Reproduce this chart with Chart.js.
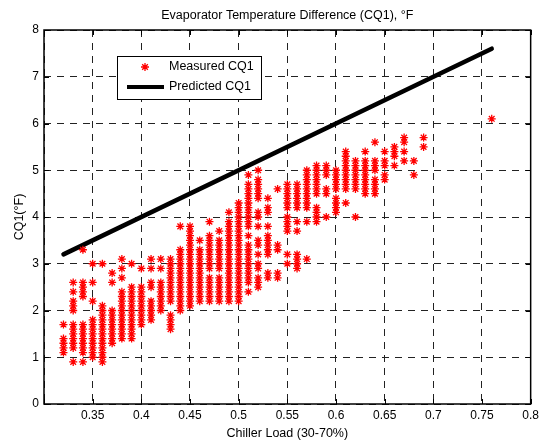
<!DOCTYPE html>
<html><head><meta charset="utf-8">
<script src="https://cdn.jsdelivr.net/npm/chart.js@4/dist/chart.umd.min.js"></script>
<style>html,body{margin:0;padding:0;background:#fff}canvas{display:block}</style>
</head><body>
<canvas id="c" width="543" height="442"></canvas>
<script>
const chartTitle = 'Evaporator Temperature Difference (CQ1), °F';
const xAxisTitle = 'Chiller Load (30-70%)';
const yAxisTitle = 'CQ1(°F)';
const measuredLabel = 'Measured CQ1';
const predictedLabel = 'Predicted CQ1';

const loadLevels = [0.32,0.33,0.34,0.35,0.36,0.37,0.38,0.39,0.40,0.41,0.42,0.43,0.44,0.45,0.46,0.47,0.48,0.49,0.50,0.51,0.52,0.53,0.54,0.55,0.56,0.57,0.58,0.59,0.60,0.61,0.62,0.63,0.64,0.65,0.66,0.67,0.68,0.69,0.76];
const measuredByLoad = [
  [1.1,1.2,1.3,1.4,1.7],
  [0.9,1.2,1.3,1.4,1.5,1.6,1.7,2.0,2.1,2.2,2.4,2.6],
  [0.9,1.1,1.2,1.3,1.4,1.5,1.6,1.7,2.3,2.4,2.5,2.6,3.3],
  [1.0,1.1,1.2,1.3,1.4,1.5,1.6,1.7,1.8,2.2,2.6,3.0],
  [0.9,1.0,1.1,1.2,1.3,1.4,1.5,1.6,1.7,1.8,1.9,2.0,2.1,3.0],
  [1.3,1.4,1.5,1.6,1.7,1.8,1.9,2.0,2.6,2.8],
  [1.4,1.5,1.6,1.7,1.8,1.9,2.0,2.1,2.2,2.3,2.4,2.7,2.9,3.1],
  [1.4,1.5,1.6,1.7,1.8,1.9,2.0,2.1,2.2,2.3,2.4,2.5,3.0],
  [1.7,1.8,1.9,2.0,2.1,2.2,2.3,2.4,2.5,2.9],
  [1.8,1.9,2.0,2.1,2.2,2.5,2.6,2.9,3.1],
  [2.0,2.1,2.2,2.3,2.4,2.5,2.6,2.9,3.1],
  [1.6,1.7,1.8,1.9,2.2,2.3,2.4,2.5,2.6,2.7,2.8,2.9,3.0,3.1],
  [2.0,2.1,2.2,2.3,2.4,2.5,2.6,2.7,2.8,2.9,3.0,3.1,3.2,3.3,3.8],
  [2.1,2.2,2.3,2.4,2.5,2.6,2.7,2.8,2.9,3.0,3.1,3.2,3.3,3.4,3.5,3.6,3.7,3.8],
  [2.2,2.3,2.4,2.5,2.6,2.7,2.8,2.9,3.0,3.1,3.2,3.3,3.5],
  [2.2,2.3,2.4,2.5,2.6,2.7,2.9,3.0,3.1,3.2,3.3,3.4,3.5,3.6,3.9],
  [2.2,2.3,2.4,2.5,2.6,2.7,2.9,3.0,3.1,3.2,3.3,3.4,3.5,3.7],
  [2.2,2.3,2.4,2.5,2.6,2.7,2.8,2.9,3.0,3.1,3.2,3.3,3.4,3.5,3.6,3.7,3.8,3.9,4.1],
  [2.2,2.3,2.4,2.5,2.6,2.7,2.8,2.9,3.0,3.1,3.2,3.3,3.4,3.5,3.6,3.7,3.8,3.9,4.0,4.1,4.2,4.3],
  [2.4,2.6,2.7,2.8,2.9,3.0,3.1,3.2,3.3,3.4,3.6,3.8,3.9,4.0,4.1,4.2,4.3,4.4,4.5,4.6,4.7,4.9],
  [2.5,2.6,2.7,2.9,3.0,3.2,3.4,3.5,3.8,4.0,4.1,4.4,4.5,4.6,4.7,4.8,5.0],
  [2.7,2.8,3.2,3.3,3.4,3.5,3.6,3.8,4.1,4.2,4.4],
  [2.7,2.8,3.3,3.4,4.6],
  [3.0,3.2,3.7,3.8,3.9,4.0,4.2,4.3,4.4,4.5,4.6,4.7],
  [2.9,3.0,3.1,3.2,3.7,3.9,4.2,4.3,4.4,4.5,4.6,4.7],
  [3.1,3.9,4.2,4.3,4.4,4.5,4.6,4.7,4.8,4.9,5.0],
  [3.9,4.0,4.1,4.2,4.5,4.6,4.7,4.8,4.9,5.0,5.1],
  [4.0,4.5,4.6,4.9,5.0,5.1],
  [4.1,4.2,4.3,4.4,4.6,4.7,4.8,4.9,5.0],
  [4.3,4.6,4.7,4.8,4.9,5.0,5.1,5.2,5.3,5.4],
  [4.0,4.6,4.7,4.8,4.9,5.0,5.1,5.2],
  [4.5,4.6,4.7,4.8,4.9,5.0,5.1,5.2,5.4],
  [4.5,4.6,4.7,4.8,5.0,5.1,5.2,5.6],
  [4.8,4.9,5.1,5.2,5.4],
  [5.1,5.3,5.4,5.5],
  [5.2,5.4,5.6,5.7],
  [4.9,5.2],
  [5.5,5.7],
  [6.1]
];
const predictedLoad = [0.32, 0.76];
const predictedCQ1 = [3.2, 7.6];

const xTickValues = [0.3,0.35,0.4,0.45,0.5,0.55,0.6,0.65,0.7,0.75,0.8];
const xTickLabels = ['','0.35','0.4','0.45','0.5','0.55','0.6','0.65','0.7','0.75','0.8'];
const yTickValues = [0,1,2,3,4,5,6,7,8];
const yTickLabels = ['0','1','2','3','4','5','6','7','8'];

const measuredPoints = [];
loadLevels.forEach((x, i) => measuredByLoad[i].forEach(y => measuredPoints.push({x, y})));
const predictedPoints = predictedLoad.map((x, i) => ({x, y: predictedCQ1[i]}));

const FONT = "'Liberation Sans', Arial, Helvetica, sans-serif";
const font12 = {family: FONT, size: 12};
const font13 = {family: FONT, size: 12.5};

const framePlugin = {
  id: 'matlabFrame',
  afterDraw(chart) {
    const {ctx, chartArea: a, scales} = chart;
    ctx.save();
    ctx.strokeStyle = '#000';
    ctx.lineWidth = 1;
    const tl = 5;
    ctx.beginPath();
    xTickValues.forEach(v => {
      const px = Math.round(scales.x.getPixelForValue(v)) + 0.5;
      ctx.moveTo(px, a.bottom); ctx.lineTo(px, a.bottom - tl);
      ctx.moveTo(px, a.top); ctx.lineTo(px, a.top + tl);
    });
    yTickValues.forEach(v => {
      const py = Math.round(scales.y.getPixelForValue(v)) + 0.5;
      ctx.moveTo(a.left, py); ctx.lineTo(a.left + tl, py);
      ctx.moveTo(a.right, py); ctx.lineTo(a.right - tl, py);
    });
    ctx.stroke();
    ctx.lineWidth = 1.5;
    ctx.strokeRect(a.left, a.top, a.right - a.left, a.bottom - a.top);
    // legend
    const bx = 117.5, by = 56.5, bw = 144, bh = 43;
    ctx.fillStyle = '#fff';
    ctx.fillRect(bx, by, bw, bh);
    ctx.lineWidth = 1;
    ctx.strokeStyle = '#000';
    ctx.strokeRect(bx, by, bw, bh);
    const ds0 = chart.data.datasets[0], ds1 = chart.data.datasets[1];
    const mx = 145, my = 67, r = ds0.pointRadius;
    ctx.strokeStyle = ds0.borderColor;
    ctx.lineWidth = ds0.borderWidth;
    ctx.beginPath();
    ctx.moveTo(mx - r, my); ctx.lineTo(mx + r, my);
    ctx.moveTo(mx, my - r); ctx.lineTo(mx, my + r);
    const d = r * Math.SQRT1_2;
    ctx.moveTo(mx - d, my - d); ctx.lineTo(mx + d, my + d);
    ctx.moveTo(mx - d, my + d); ctx.lineTo(mx + d, my - d);
    ctx.stroke();
    ctx.strokeStyle = ds1.borderColor;
    ctx.lineWidth = 4;
    ctx.beginPath();
    ctx.moveTo(127, 87); ctx.lineTo(164, 87);
    ctx.stroke();
    ctx.fillStyle = '#000';
    ctx.font = '12.5px ' + FONT;
    ctx.textBaseline = 'middle';
    ctx.textAlign = 'left';
    ctx.fillText(ds0.label, 169, 67);
    ctx.fillText(ds1.label, 169, 87);
    ctx.restore();
  }
};

new Chart(document.getElementById('c'), {
  data: {
    datasets: [
      {
        type: 'scatter', label: measuredLabel, data: measuredPoints,
        pointStyle: 'star', pointRadius: 4, pointHoverRadius: 4,
        borderColor: '#ff0000', backgroundColor: '#ff0000', borderWidth: 1.3
      },
      {
        type: 'line', label: predictedLabel, data: predictedPoints,
        borderColor: '#000000', backgroundColor: '#000000', borderWidth: 4.5,
        pointRadius: 0, borderCapStyle: 'round', tension: 0
      }
    ]
  },
  options: {
    responsive: false, animation: false, devicePixelRatio: 1,
    layout: {padding: {top: 0, right: 8, left: 0, bottom: 0}},
    plugins: {
      legend: {display: false},
      tooltip: {enabled: false},
      title: {display: true, text: chartTitle, fullSize: false, color: '#000',
        font: {family: FONT, size: 12.5, weight: 'normal'}, padding: {top: 8, bottom: 7}}
    },
    scales: {
      x: {
        type: 'linear', min: 0.3, max: 0.8,
        afterBuildTicks: s => { s.ticks = xTickValues.map(v => ({value: v})); },
        afterFit: s => { s.height = 38; },
        ticks: {callback: (v, i) => xTickLabels[i], autoSkip: false, maxRotation: 0, padding: 4, color: '#000', font: font12},
        grid: {color: '#222', lineWidth: 1, drawTicks: false},
        border: {display: false, dash: [7, 6]},
        title: {display: true, text: xAxisTitle, color: '#000', font: font13, padding: {top: 0, bottom: 1}}
      },
      y: {
        type: 'linear', min: 0, max: 8,
        afterBuildTicks: s => { s.ticks = yTickValues.map(v => ({value: v})); },
        afterFit: s => { s.width = 44; },
        ticks: {callback: (v, i) => yTickLabels[i], autoSkip: false, padding: 5, color: '#000', font: font12},
        grid: {color: '#222', lineWidth: 1, drawTicks: false},
        border: {display: false, dash: [7, 6]},
        title: {display: true, text: yAxisTitle, color: '#000', font: font13, padding: {top: 12.5, bottom: 0}}
      }
    }
  },
  plugins: [framePlugin]
});
</script>
</body></html>
